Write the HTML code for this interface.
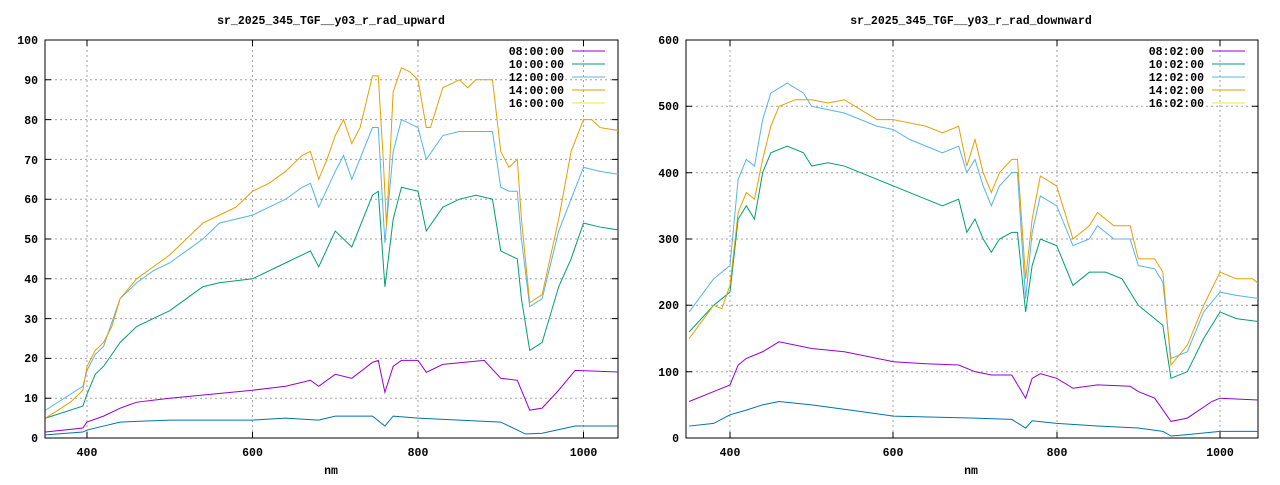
<!DOCTYPE html>
<html><head><style>body{margin:0;background:#fff}svg text{font-family:"Liberation Mono",monospace;font-size:11.5px;font-weight:bold;fill:#000}</style></head><body>
<svg width="1280" height="480" xmlns="http://www.w3.org/2000/svg">
<defs>
<clipPath id="cl"><rect x="45" y="40" width="573" height="398"/></clipPath>
<clipPath id="cr"><rect x="686" y="40" width="572" height="398"/></clipPath>
</defs>
<g stroke="#a0a0a0" stroke-dasharray="2,3" stroke-width="1">
<path d="M45 398.2H618M45 358.4H618M45 318.6H618M45 278.8H618M45 239H618M45 199.2H618M45 159.4H618M45 119.6H618M45 79.8H618M87 40V438M252.5 40V438M418 40V438M583.5 40V438"/>
<path d="M686 371.7H1258M686 305.3H1258M686 239H1258M686 172.7H1258M686 106.3H1258M730 40V438M893 40V438M1057 40V438M1220 40V438"/>
</g>
<rect x="45" y="40" width="573" height="398" fill="none" stroke="#000"/>
<rect x="686" y="40" width="572" height="398" fill="none" stroke="#000"/>
<g stroke="#000"><path d="M45 398.2h6M45 358.4h6M45 318.6h6M45 278.8h6M45 239h6M45 199.2h6M45 159.4h6M45 119.6h6M45 79.8h6M618 398.2h-6M618 358.4h-6M618 318.6h-6M618 278.8h-6M618 239h-6M618 199.2h-6M618 159.4h-6M618 119.6h-6M618 79.8h-6M87 438v-6M252.5 438v-6M418 438v-6M583.5 438v-6M87 40v6M252.5 40v6M418 40v6M583.5 40v6"/>
<path d="M686 371.7h6M686 305.3h6M686 239h6M686 172.7h6M686 106.3h6M1258 371.7h-6M1258 305.3h-6M1258 239h-6M1258 172.7h-6M1258 106.3h-6M730 438v-6M893 438v-6M1057 438v-6M1220 438v-6M730 40v6M893 40v6M1057 40v6M1220 40v6"/></g>
<g text-anchor="end">
<text x="38" y="442">0</text><text x="38" y="402">10</text><text x="38" y="362">20</text><text x="38" y="323">30</text><text x="38" y="283">40</text><text x="38" y="243">50</text><text x="38" y="203">60</text><text x="38" y="164">70</text><text x="38" y="124">80</text><text x="38" y="84">90</text><text x="38" y="44">100</text>
<text x="679" y="442">0</text><text x="679" y="376">100</text><text x="679" y="309">200</text><text x="679" y="243">300</text><text x="679" y="177">400</text><text x="679" y="110">500</text><text x="679" y="44">600</text>
</g>
<g text-anchor="middle">
<text x="87" y="456">400</text><text x="252.5" y="456">600</text><text x="418" y="456">800</text><text x="583.5" y="456">1000</text>
<text x="730" y="456">400</text><text x="893" y="456">600</text><text x="1057" y="456">800</text><text x="1220" y="456">1000</text>
<text x="331" y="24">sr_2025_345_TGF__y03_r_rad_upward</text>
<text x="971" y="24">sr_2025_345_TGF__y03_r_rad_downward</text>
<text x="331" y="474">nm</text><text x="971" y="474">nm</text>
</g>
<g text-anchor="end">
<text x="564" y="55">08:00:00</text><text x="564" y="68">10:00:00</text><text x="564" y="81">12:00:00</text><text x="564" y="94">14:00:00</text><text x="564" y="107">16:00:00</text>
<text x="1204" y="55">08:02:00</text><text x="1204" y="68">10:02:00</text><text x="1204" y="81">12:02:00</text><text x="1204" y="94">14:02:00</text><text x="1204" y="107">16:02:00</text>
</g>
<g stroke-width="1">
<path d="M572 51h33M1212 51h33" stroke="#9400d3"/><path d="M572 64h33M1212 64h33" stroke="#009e73"/><path d="M572 77h33M1212 77h33" stroke="#56b4e9"/><path d="M572 90h33M1212 90h33" stroke="#e69f00"/><path d="M572 103h33M1212 103h33" stroke="#f0e442"/>
</g>
<g clip-path="url(#cl)"><g transform="matrix(0.8275,0,0,-3.98,-244,438)" fill="none">
<polyline vector-effect="non-scaling-stroke" stroke="#0072b2" points="350,0.8 395,1.5 400,2 420,3 440,4 500,4.5 600,4.5 640,5 680,4.5 700,5.5 745,5.5 760,3 770,5.5 800,5 900,4 930,1 950,1.2 990,3 1050,3"/>
<polyline vector-effect="non-scaling-stroke" stroke="#9400d3" points="350,1.5 395,2.5 400,4 420,5.5 440,7.5 460,9 500,10 550,11 600,12 640,13 670,14.5 680,13 700,16 720,15 745,19 752,19.5 760,11.5 770,18 780,19.5 800,19.5 810,16.5 830,18.5 880,19.5 900,15 920,14.5 935,7 950,7.5 970,12 990,17 1050,16.5"/>
<polyline vector-effect="non-scaling-stroke" stroke="#009e73" points="350,5 395,8 400,11 410,16 420,18 440,24 460,28 480,30 500,32 520,35 540,38 560,39 600,40 640,44 660,46 670,47 680,43 700,52 720,48 745,61 752,62 760,38 770,55 780,63 800,62 810,52 830,58 850,60 870,61 890,60 900,47 910,46 920,45 925,35 935,22 950,24 970,38 985,45 1000,54 1020,53 1050,52"/>
<polyline vector-effect="non-scaling-stroke" stroke="#56b4e9" points="350,7 395,13 400,17 410,21 420,23 440,35 460,39 480,42 500,44 520,47 540,50 560,54 600,56 640,60 660,63 670,64 680,58 700,67 710,71 720,65 745,78 752,78 760,49 770,72 780,80 800,78 810,70 830,76 850,77 870,77 890,77 900,63 910,62 920,62 925,50 935,33 950,35 970,52 985,60 1000,68 1020,67 1050,66"/>
<polyline vector-effect="non-scaling-stroke" stroke="#e69f00" points="350,5 380,9 395,12 400,18 410,22 420,24 430,28 440,35 460,40 480,43 500,46 520,50 540,54 560,56 580,58 600,62 620,64 640,67 660,71 670,72 680,65 690,70 700,76 710,80 720,74 730,78 745,91 752,91 758,70 762,53 770,87 780,93 790,92 800,90 810,78 815,78 830,88 850,90 860,88 870,90 890,90 900,72 910,68 920,70 925,55 935,34 950,36 970,55 985,72 1000,80 1010,80 1020,78 1050,77"/>
</g></g>
<g clip-path="url(#cr)"><g transform="matrix(0.8167,0,0,-0.6633,403.3,438)" fill="none">
<polyline vector-effect="non-scaling-stroke" stroke="#0072b2" points="350,18 380,22 400,35 420,42 440,50 460,55 500,50 560,40 600,33 700,30 745,28 762,15 770,26 800,22 850,18 900,15 930,10 940,3 960,5 1000,10 1050,10"/>
<polyline vector-effect="non-scaling-stroke" stroke="#9400d3" points="350,55 380,70 400,80 410,110 420,120 440,130 460,145 500,135 540,130 600,115 640,112 680,110 700,100 720,95 745,95 762,60 770,90 780,97 800,90 820,75 850,80 890,78 900,70 920,60 940,25 960,30 990,55 1000,60 1050,57"/>
<polyline vector-effect="non-scaling-stroke" stroke="#009e73" points="350,160 380,200 400,220 410,330 420,350 430,330 440,400 450,430 470,440 490,430 500,410 520,415 540,410 560,400 580,390 600,380 620,370 640,360 660,350 680,360 690,310 700,330 710,300 720,280 730,300 745,310 752,310 762,190 770,260 780,300 800,290 820,230 840,250 860,250 880,240 900,200 920,180 930,170 940,90 960,100 980,150 1000,190 1020,180 1050,175"/>
<polyline vector-effect="non-scaling-stroke" stroke="#56b4e9" points="350,190 380,240 400,260 410,390 420,420 430,410 440,480 450,520 470,535 490,520 500,500 520,495 540,490 580,470 600,465 620,450 640,440 660,430 680,440 690,400 700,420 710,380 720,350 730,380 745,400 752,400 762,210 770,310 780,365 800,350 820,290 840,300 850,320 870,300 890,300 900,260 920,255 930,235 940,120 960,130 980,190 1000,220 1020,215 1050,210"/>
<polyline vector-effect="non-scaling-stroke" stroke="#e69f00" points="350,150 380,200 390,195 400,230 410,340 420,370 430,360 440,420 450,470 460,500 480,510 500,510 520,505 540,510 560,495 580,480 600,480 620,475 640,470 660,460 680,470 690,410 700,450 710,400 720,370 730,400 745,420 752,420 762,240 770,330 780,395 800,380 820,300 840,320 850,340 870,320 890,320 900,270 920,270 930,250 940,110 960,140 980,200 1000,250 1020,240 1040,240 1050,230"/>
</g></g>
</svg>
</body></html>
